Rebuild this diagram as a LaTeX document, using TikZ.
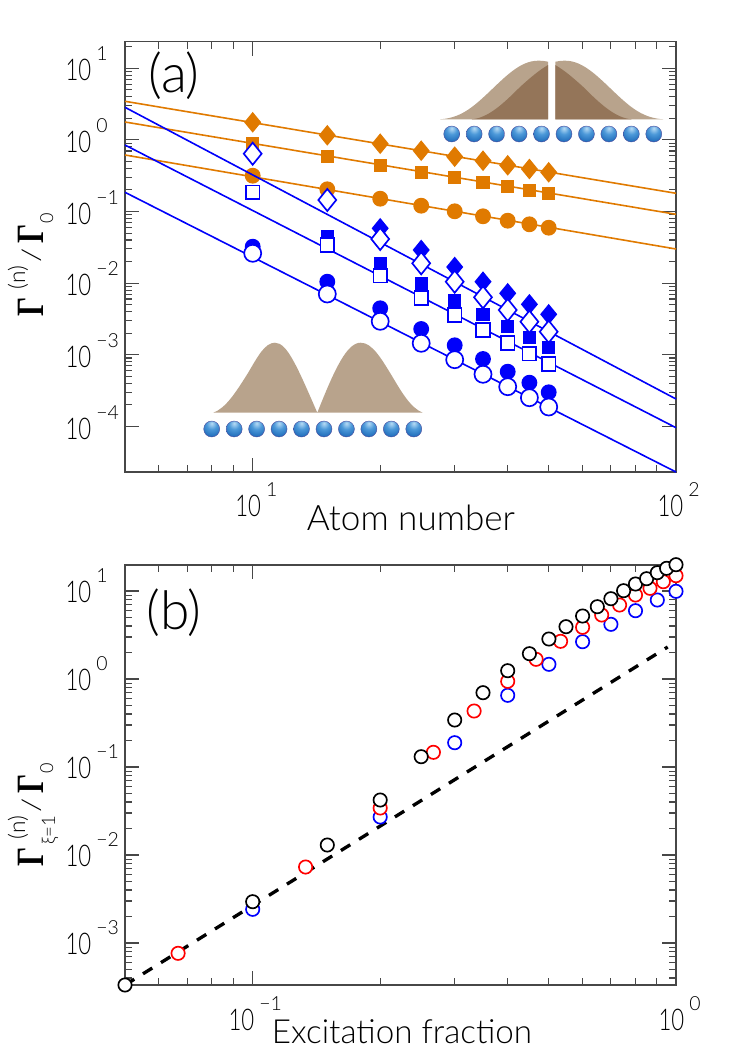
\documentclass[tikz,border=0pt]{standalone}
\usepackage{fontspec}
\usepackage{tikz}
\usetikzlibrary{shapes.geometric}
\newfontfamily\gillfont{Lato Light}
\newfontfamily\gammafont{Liberation Serif}
\definecolor{curveorange}{rgb}{0.88,0.48,0}
\definecolor{curveblue}{rgb}{0,0,0.98}
\definecolor{hillpale}{rgb}{0.72,0.64,0.55}
\definecolor{hilldark}{rgb}{0.58,0.46,0.35}
\pgfdeclareradialshading{atomball}{\pgfpoint{0bp}{18bp}}{rgb(0bp)=(0.72,0.86,0.96); rgb(16bp)=(0.30,0.60,0.85); rgb(40bp)=(0.08,0.38,0.70); rgb(60bp)=(0.08,0.36,0.68); rgb(100bp)=(0.08,0.36,0.68)}
\tikzset{
  axisline/.style={draw=black!72,line width=1.1pt},
  tickline/.style={draw=black!72,line width=0.8pt},
  fitline/.style={line width=1.2pt},
  atom/.style={circle,minimum size=12pt,inner sep=0pt,outer sep=0pt,shade,shading=atomball,draw=blue!45!black!70,line width=0.3pt},
  fcirc/.style={circle,minimum size=11.9pt,inner sep=0pt,outer sep=0pt,fill=#1},
  fsquare/.style={rectangle,minimum size=10pt,inner sep=0pt,outer sep=0pt,fill=#1},
  fdiamond/.style={diamond,minimum width=12.8pt,minimum height=15.6pt,inner sep=0pt,outer sep=0pt,fill=#1},
  ocirc/.style={circle,minimum size=12.8pt,inner sep=0pt,outer sep=0pt,draw=curveblue,fill=white,line width=1.25pt},
  osquare/.style={rectangle,minimum size=10.3pt,inner sep=0pt,outer sep=0pt,draw=curveblue,fill=white,line width=1.25pt},
  odiamond/.style={diamond,minimum width=13.4pt,minimum height=16.6pt,inner sep=0pt,outer sep=0pt,draw=curveblue,fill=white,line width=1.25pt},
  ring/.style={circle,minimum size=10pt,inner sep=0pt,outer sep=0pt,draw=#1,fill=white,line width=1.25pt},
  ticktext/.style={font=\gillfont,anchor=base west,inner sep=0pt},
  axistext/.style={font=\gillfont\fontsize{#1}{26}\selectfont,anchor=base west,inner sep=0pt},
  paneltext/.style={font=\gillfont\fontsize{40}{40}\selectfont,anchor=base west,inner sep=0pt},
  gammatext/.style={font=\gillfont,rotate=90,anchor=base west,inner sep=0pt}
}
\newcommand{\tickten}[1]{\llap{\fontsize{22.4}{22}\selectfont\scalebox{0.74}[1]{10}}\hspace{3.8pt}\raisebox{15pt}{\fontsize{14.6}{15}\selectfont #1}}
\newcommand{\biggamma}{{\gammafont\bfseries\fontsize{29}{29}\selectfont \scalebox{0.78}[1]{Γ}}}
\newcommand{\slantbar}{\raisebox{2pt}{\fontsize{19}{19}\selectfont\scalebox{1.3}[1]{/}}}
\newcommand{\logticks}[4]{%
  \begin{scope}
  \clip (125,#1) rectangle (676,#2);
  \foreach \dec in {-1,0} \foreach \m in {2,...,9} {
    \pgfmathsetmacro\tx{252.7+423.5*(\dec+log10(\m))}
    \draw[tickline] (\tx,#2) -- ++(0,-7);
    \draw[tickline] (\tx,#1) -- ++(0,7);
  }
  \draw[tickline] (252.7,#2) -- ++(0,-14);
  \draw[tickline] (252.7,#1) -- ++(0,14);
  \foreach \dec in {0,...,5} {
    \pgfmathsetmacro\ty{#3+\dec*#4}
    \draw[tickline] (125,\ty) -- ++(14,0);
    \draw[tickline] (676,\ty) -- ++(-14,0);
    \foreach \m in {2,...,9} {
      \pgfmathsetmacro\ty{#3+\dec*#4-#4*log10(\m)}
      \draw[tickline] (125,\ty) -- ++(7,0);
      \draw[tickline] (676,\ty) -- ++(-7,0);
    }
  }
  \end{scope}
  \draw[axisline] (125,#1) rectangle (676,#2);
}

\begin{document}
\begin{tikzpicture}[x=0.75pt,y=0.75pt,yscale=-1,xscale=1]
\useasboundingbox (0,0) rectangle (747,1057);

% Panel a frame
\logticks{41.5}{472}{68.3}{71.6}

% Sketch of the split profile
\fill[hillpale] (440,119.3) .. controls (460,118) and (472,108) .. (487,94) .. controls (505,77) and (520,60.7) .. (538,60.7) .. controls (542,60.7) and (545,61) .. (548,61.7) -- (548,119.3) -- cycle;
\fill[hilldark] (471.7,119.3) .. controls (488,118) and (503,104) .. (520,87) .. controls (530,78) and (538,71) .. (548,65) -- (548,119.3) -- cycle;
\fill[hillpale] (663.3,119.3) .. controls (643.3,118) and (631.3,108) .. (616.3,94) .. controls (598.3,77) and (583.3,60.7) .. (565.3,60.7) .. controls (561.3,60.7) and (558.3,61) .. (555.3,61.7) -- (555.3,119.3) -- cycle;
\fill[hilldark] (631.6,119.3) .. controls (615.3,118) and (600.3,104) .. (583.3,87) .. controls (573.3,78) and (565.3,71) .. (555.3,65) -- (555.3,119.3) -- cycle;
% Sketch of the double hump
\fill[hillpale] (213.3,412.7) .. controls (226,408) and (236,392) .. (248,373) .. controls (258,356) and (265,342.7) .. (275,342.7) .. controls (287,342.7) and (297,366) .. (317.3,412.7) .. controls (335,368) and (347,342.7) .. (360.7,342.7) .. controls (372,342.7) and (381,358) .. (392,376) .. controls (402,393) and (411,408) .. (422.7,412.7) -- cycle;

% Atoms
\foreach \i in {0,...,9} {
  \node[atom] (atomUp\i) at (451.7+22.45*\i,134) {};
  \node[atom] (atomLow\i) at (211.7+22.45*\i,429) {};
}

% Orange fits
\draw[curveorange,fitline] (125,101.3) -- (676,193.3);
\draw[curveorange,fitline] (125,122) -- (676,214.3);
\draw[curveorange,fitline] (125,155) -- (676,249);
\foreach \px/\py [count=\i] in {252.7/122.3,327.3/135.3,380.2/143.7,421.2/150.7,454.7/156.7,483/160.7,507.7/165.3,529.4/169,548.7/172.3}
  \node[fdiamond=curveorange] (orangeDia\i) at (\px,\py) {};
\foreach \px/\py [count=\i] in {252.7/143.3,327.3/156.3,380.2/165.3,421.2/172.3,454.7/177.7,483/182.7,507.7/186.7,529.4/190.3,548.7/193.7}
  \node[fsquare=curveorange] (orangeBox\i) at (\px,\py) {};
\foreach \px/\py [count=\i] in {252.7/175.7,327.3/189.3,380.2/198.7,421.2/205.7,454.7/211.3,483/216.3,507.7/220.7,529.4/224.3,548.7/227.7}
  \node[fcirc=curveorange] (orangeDot\i) at (\px,\py) {};

% Blue fits
\draw[curveblue,fitline] (125,107.3) -- (676,399);
\draw[curveblue,fitline] (125,145) -- (676,427.7);
\draw[curveblue,fitline] (125,192.3) -- (676,472);
\foreach \px/\py [count=\i] in {380.2/228.3,421.2/250,454.7/267,483/281.7,507.7/293.3,529.4/304.3,548.7/314.3}
  \node[fdiamond=curveblue] (blueDia\i) at (\px,\py) {};
\foreach \px/\py [count=\i] in {327.3/236.7,380.2/263.3,421.2/284,454.7/300.7,483/314.3,507.7/326.7,529.4/337.7,548.7/347.3}
  \node[fsquare=curveblue] (blueBox\i) at (\px,\py) {};
\foreach \px/\py [count=\i] in {252.7/246.7,327.3/281.7,380.2/308.3,421.2/329,454.7/345.3,483/359,507.7/371.7,529.4/382.7,548.7/392.3}
  \node[fcirc=curveblue] (blueDot\i) at (\px,\py) {};
\foreach \px/\py [count=\i] in {252.7/153.7,327.3/200,380.2/239,421.2/263.3,454.7/281.7,483/297.3,507.7/310,529.4/321.7,548.7/331.7}
  \node[odiamond] (openDia\i) at (\px,\py) {};
\foreach \px/\py [count=\i] in {252.7/192.3,327.3/245,380.2/275.7,421.2/298,454.7/315,483/330,507.7/343,529.4/353.7,548.7/364}
  \node[osquare] (openBox\i) at (\px,\py) {};
\foreach \px/\py [count=\i] in {252.7/253.3,327.3/294,380.2/321.3,421.2/343.3,454.7/359.7,483/374.3,507.7/386.7,529.4/397.7,548.7/407}
  \node[ocirc] (openDot\i) at (\px,\py) {};

% Panel a text
\node[paneltext] (labelA) at (148,92) {(a)};
\node[axistext=26.3] (xlabelA) at (306.7,530) {Atom number};
\node[ticktext] (xtickA1) at (260.7,516.7) {\tickten{1}};
\node[ticktext] (xtickA2) at (683,516.7) {\tickten{2}};
\foreach \ypos/\expo [count=\i] in {80.7/1,152.7/0,224/−1,295.7/−2,367.3/−3,439/−4}
  \node[ticktext] (ytickA\i) at (91,\ypos) {\tickten{\expo}};
\node[gammatext] (ylabelA) at (43,317) {\biggamma\hspace{6pt}\raisebox{13.5pt}{\fontsize{17}{17}\selectfont (n)}\hspace{3pt}\slantbar\hspace{3.5pt}\biggamma\raisebox{-7.5pt}{\fontsize{13.5}{14}\selectfont 0}};

% Panel b frame
\logticks{565}{985}{591}{88}

% Dashed guide
\coordinate (guideStart) at (125,985);
\coordinate (guideEnd) at (667.7,647);
\draw[black,line width=2.5pt,dash pattern={on 8.2pt off 7.7pt}] (guideStart) -- (guideEnd);

% Rings
\foreach \px/\py [count=\i] in {252.7/909.3,380.2/817,454.7/742.7,507.7/695.3,548.9/664.3,582.6/641.7,610.9/624.3,635.5/610.7,657.3/600,676/591.3}
  \node[ring=blue] (blueRing\i) at (\px,\py) {};
\foreach \px/\py [count=\i] in {178.1/953.3,305.6/867,380.2/808,433.4/752.3,474.1/711,507.7/681.3,536.1/659.3,560.6/641.3,582.6/627.3,601.7/615,619.6/605,635.5/595,650/588.3,663.3/581.7,676/575.7}
  \node[ring=red] (redRing\i) at (\px,\py) {};
\foreach \px/\py [count=\i] in {125/985,252.7/901.7,327.3/845,380.2/800,421.2/756.7,454.7/720,483/692.7,507.7/670.7,529.4/653.7,548.9/639,566/626.7,582.6/616,597.3/606.7,610.9/598.7,623.6/590.7,635.5/584,646.6/578.7,657.3/572.7,666.6/568.3,676/564.7}
  \node[ring=black] (blackRing\i) at (\px,\py) {};

% Panel b text
\node[paneltext] (labelB) at (146,629) {(b)};
\node[axistext=24.9] (xlabelB) at (271.7,1043.3) {Excitation fraction};
\node[ticktext] (xtickB1) at (254,1030) {\tickten{−1}};
\node[ticktext] (xtickB2) at (684,1030) {\tickten{0}};
\foreach \ypos/\expo [count=\i] in {602.7/1,690.7/0,778.7/−1,866.7/−2,954.7/−3}
  \node[ticktext] (ytickB\i) at (91,\ypos) {\tickten{\expo}};
\node[gammatext] (ylabelB) at (43,867) {\biggamma\rlap{\hspace{2pt}\raisebox{-9pt}{\fontsize{14}{14}\selectfont ξ=1}}\hspace{6pt}\raisebox{13.5pt}{\fontsize{17}{17}\selectfont (n)}\hspace{3pt}\slantbar\hspace{3.5pt}\biggamma\raisebox{-7.5pt}{\fontsize{13.5}{14}\selectfont 0}};
\end{tikzpicture}
\end{document}
